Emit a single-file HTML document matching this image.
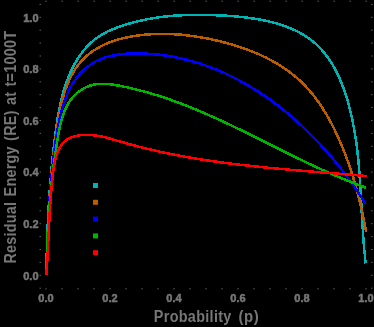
<!DOCTYPE html>
<html><head><meta charset="utf-8"><style>
html,body{margin:0;padding:0;background:#000;}
body{width:374px;height:327px;overflow:hidden;position:relative;}
svg{position:absolute;left:0;top:0;will-change:transform;}
.tl{font-family:"Liberation Sans",sans-serif;font-weight:bold;font-size:11px;fill:#777777;stroke:#777777;stroke-width:0.5px;}
.ax{font-family:"Liberation Sans",sans-serif;font-weight:bold;font-size:15px;fill:#777777;}
</style></head><body>
<svg width="374" height="327" viewBox="0 0 374 327">
<rect width="374" height="327" fill="#000"/>
<g fill="#5e5e5e"><rect x="45.5" y="288" width="1" height="1.5"/><rect x="45.5" y="0.5" width="1" height="1.5"/><rect x="61.5" y="288" width="1" height="1.5"/><rect x="61.5" y="0.5" width="1" height="1.5"/><rect x="77.5" y="288" width="1" height="1.5"/><rect x="77.5" y="0.5" width="1" height="1.5"/><rect x="93.5" y="288" width="1" height="1.5"/><rect x="93.5" y="0.5" width="1" height="1.5"/><rect x="109.5" y="288" width="1" height="1.5"/><rect x="109.5" y="0.5" width="1" height="1.5"/><rect x="125.5" y="288" width="1" height="1.5"/><rect x="125.5" y="0.5" width="1" height="1.5"/><rect x="141.5" y="288" width="1" height="1.5"/><rect x="141.5" y="0.5" width="1" height="1.5"/><rect x="157.5" y="288" width="1" height="1.5"/><rect x="157.5" y="0.5" width="1" height="1.5"/><rect x="173.5" y="288" width="1" height="1.5"/><rect x="173.5" y="0.5" width="1" height="1.5"/><rect x="189.5" y="288" width="1" height="1.5"/><rect x="189.5" y="0.5" width="1" height="1.5"/><rect x="205.5" y="288" width="1" height="1.5"/><rect x="205.5" y="0.5" width="1" height="1.5"/><rect x="221.5" y="288" width="1" height="1.5"/><rect x="221.5" y="0.5" width="1" height="1.5"/><rect x="237.5" y="288" width="1" height="1.5"/><rect x="237.5" y="0.5" width="1" height="1.5"/><rect x="253.5" y="288" width="1" height="1.5"/><rect x="253.5" y="0.5" width="1" height="1.5"/><rect x="269.5" y="288" width="1" height="1.5"/><rect x="269.5" y="0.5" width="1" height="1.5"/><rect x="285.5" y="288" width="1" height="1.5"/><rect x="285.5" y="0.5" width="1" height="1.5"/><rect x="301.5" y="288" width="1" height="1.5"/><rect x="301.5" y="0.5" width="1" height="1.5"/><rect x="317.5" y="288" width="1" height="1.5"/><rect x="317.5" y="0.5" width="1" height="1.5"/><rect x="333.5" y="288" width="1" height="1.5"/><rect x="333.5" y="0.5" width="1" height="1.5"/><rect x="349.5" y="288" width="1" height="1.5"/><rect x="349.5" y="0.5" width="1" height="1.5"/><rect x="365.5" y="288" width="1" height="1.5"/><rect x="365.5" y="0.5" width="1" height="1.5"/><rect x="39.5" y="287.7" width="1.5" height="1"/><rect x="371" y="287.7" width="1.5" height="1"/><rect x="39.5" y="274.8" width="1.5" height="1"/><rect x="371" y="274.8" width="1.5" height="1"/><rect x="39.5" y="261.9" width="1.5" height="1"/><rect x="371" y="261.9" width="1.5" height="1"/><rect x="39.5" y="249.0" width="1.5" height="1"/><rect x="371" y="249.0" width="1.5" height="1"/><rect x="39.5" y="236.1" width="1.5" height="1"/><rect x="371" y="236.1" width="1.5" height="1"/><rect x="39.5" y="223.2" width="1.5" height="1"/><rect x="371" y="223.2" width="1.5" height="1"/><rect x="39.5" y="210.3" width="1.5" height="1"/><rect x="371" y="210.3" width="1.5" height="1"/><rect x="39.5" y="197.4" width="1.5" height="1"/><rect x="371" y="197.4" width="1.5" height="1"/><rect x="39.5" y="184.5" width="1.5" height="1"/><rect x="371" y="184.5" width="1.5" height="1"/><rect x="39.5" y="171.6" width="1.5" height="1"/><rect x="371" y="171.6" width="1.5" height="1"/><rect x="39.5" y="158.7" width="1.5" height="1"/><rect x="371" y="158.7" width="1.5" height="1"/><rect x="39.5" y="145.8" width="1.5" height="1"/><rect x="371" y="145.8" width="1.5" height="1"/><rect x="39.5" y="132.9" width="1.5" height="1"/><rect x="371" y="132.9" width="1.5" height="1"/><rect x="39.5" y="120.0" width="1.5" height="1"/><rect x="371" y="120.0" width="1.5" height="1"/><rect x="39.5" y="107.1" width="1.5" height="1"/><rect x="371" y="107.1" width="1.5" height="1"/><rect x="39.5" y="94.2" width="1.5" height="1"/><rect x="371" y="94.2" width="1.5" height="1"/><rect x="39.5" y="81.3" width="1.5" height="1"/><rect x="371" y="81.3" width="1.5" height="1"/><rect x="39.5" y="68.4" width="1.5" height="1"/><rect x="371" y="68.4" width="1.5" height="1"/><rect x="39.5" y="55.5" width="1.5" height="1"/><rect x="371" y="55.5" width="1.5" height="1"/><rect x="39.5" y="42.6" width="1.5" height="1"/><rect x="371" y="42.6" width="1.5" height="1"/><rect x="39.5" y="29.7" width="1.5" height="1"/><rect x="371" y="29.7" width="1.5" height="1"/><rect x="39.5" y="16.8" width="1.5" height="1"/><rect x="371" y="16.8" width="1.5" height="1"/><rect x="39.5" y="3.9" width="1.5" height="1"/><rect x="371" y="3.9" width="1.5" height="1"/></g>
<g class="tl"><text x="46" y="302" text-anchor="middle">0.0</text><text x="38.5" y="279.6" text-anchor="end">0.0</text><text x="110" y="302" text-anchor="middle">0.2</text><text x="38.5" y="228.0" text-anchor="end">0.2</text><text x="174" y="302" text-anchor="middle">0.4</text><text x="38.5" y="176.4" text-anchor="end">0.4</text><text x="238" y="302" text-anchor="middle">0.6</text><text x="38.5" y="124.8" text-anchor="end">0.6</text><text x="302" y="302" text-anchor="middle">0.8</text><text x="38.5" y="73.2" text-anchor="end">0.8</text><text x="366" y="302" text-anchor="middle">1.0</text><text x="38.5" y="21.6" text-anchor="end">1.0</text></g>
<text class="ax" style="font-size:14.4px" letter-spacing="0.32" transform="translate(153.8,322) scale(1,1.15)">Probability</text><text class="ax" transform="translate(238.5,322) scale(1,1.1)" letter-spacing="0.5">(p)</text>
<text class="ax" style="font-size:14.4px" letter-spacing="0.25" word-spacing="1" transform="translate(16.2,263.6) rotate(-90) scale(1,1.17)">Residual Energy (RE) at t=1000T</text>
<polyline shape-rendering="crispEdges" fill="none" stroke="#00b4b4" stroke-width="2.5" stroke-linejoin="round" points="46.3,275.4 46.3,273.6 46.4,271.8 46.4,269.9 46.4,268.1 46.5,266.3 46.5,264.6 46.5,262.8 46.6,261.0 46.6,259.2 46.6,257.4 46.7,255.6 46.7,253.8 46.8,252.0 46.8,250.3 46.9,248.5 46.9,246.7 47.0,244.9 47.0,243.2 47.1,241.4 47.1,239.6 47.2,237.8 47.3,236.1 47.3,234.3 47.4,232.5 47.5,230.8 47.5,229.0 47.6,227.3 47.7,225.5 47.8,223.7 47.9,222.0 47.9,220.2 48.0,218.5 48.1,216.7 48.2,215.0 48.3,213.2 48.4,211.5 48.5,209.7 48.6,208.0 48.7,206.2 48.8,204.5 48.9,202.7 49.0,200.9 49.1,199.2 49.3,197.4 49.4,195.7 49.5,193.9 49.6,192.2 49.7,190.4 49.9,188.7 50.0,186.9 50.1,185.2 50.3,183.4 50.4,181.7 50.6,179.9 50.7,178.2 50.9,176.4 51.0,174.7 51.2,172.9 51.3,171.2 51.5,169.4 51.6,167.7 51.8,165.9 52.0,164.1 52.2,162.4 52.3,160.6 52.5,158.9 52.7,157.1 52.9,155.3 53.1,153.6 53.3,151.8 53.4,150.0 53.6,148.3 53.8,146.5 54.1,144.7 54.3,142.9 54.5,141.2 54.7,139.4 54.9,137.6 55.1,135.8 55.4,134.0 55.6,132.3 55.8,130.5 56.1,128.7 56.3,126.9 56.6,125.1 56.8,123.3 57.1,121.6 57.4,119.8 57.7,118.0 58.0,116.2 58.3,114.5 58.6,112.7 58.9,110.9 59.3,109.2 59.6,107.4 60.0,105.7 60.4,103.9 60.8,102.2 61.2,100.4 61.6,98.7 62.0,97.0 62.5,95.2 63.0,93.5 63.4,91.8 63.9,90.1 64.4,88.4 65.0,86.8 65.5,85.1 66.1,83.4 66.7,81.8 67.3,80.1 67.9,78.5 68.6,76.8 69.2,75.2 69.9,73.6 70.6,72.0 71.4,70.4 72.1,68.9 72.9,67.3 73.7,65.8 74.5,64.2 75.4,62.7 76.3,61.2 77.2,59.7 78.1,58.2 79.1,56.8 80.1,55.3 81.1,53.9 82.1,52.5 83.2,51.1 84.3,49.7 85.4,48.4 86.6,47.1 87.8,45.8 89.0,44.5 90.3,43.3 91.5,42.1 92.9,41.0 94.2,39.8 95.6,38.8 97.0,37.7 98.5,36.7 100.0,35.7 101.5,34.8 103.1,33.9 104.7,33.1 106.3,32.2 107.9,31.4 109.5,30.7 111.2,29.9 112.9,29.2 114.5,28.6 116.2,27.9 117.9,27.3 119.6,26.7 121.4,26.1 123.1,25.5 124.8,24.9 126.5,24.4 128.2,23.9 129.9,23.4 131.6,22.9 133.3,22.5 135.0,22.0 136.7,21.6 138.4,21.2 140.1,20.8 141.8,20.4 143.5,20.0 145.2,19.7 146.9,19.3 148.6,19.0 150.3,18.7 152.0,18.4 153.7,18.1 155.4,17.8 157.1,17.6 158.8,17.3 160.5,17.1 162.2,16.9 163.9,16.7 165.6,16.5 167.3,16.3 169.0,16.1 170.7,16.0 172.4,15.8 174.1,15.7 175.9,15.6 177.6,15.5 179.3,15.4 181.0,15.3 182.8,15.2 184.5,15.1 186.2,15.1 188.0,15.0 189.7,15.0 191.4,14.9 193.2,14.9 195.0,14.9 196.7,14.9 198.5,14.9 200.3,14.9 202.0,14.9 203.8,14.9 205.6,15.0 207.4,15.0 209.2,15.0 211.0,15.1 212.8,15.1 214.6,15.2 216.5,15.3 218.3,15.3 220.1,15.4 222.0,15.5 223.8,15.6 225.6,15.7 227.5,15.8 229.4,16.0 231.2,16.1 233.1,16.2 234.9,16.4 236.8,16.5 238.6,16.7 240.5,16.9 242.3,17.1 244.2,17.3 246.0,17.5 247.9,17.8 249.7,18.0 251.6,18.3 253.4,18.5 255.2,18.8 257.1,19.1 258.9,19.4 260.7,19.8 262.5,20.1 264.3,20.5 266.1,20.9 267.9,21.3 269.6,21.7 271.4,22.1 273.2,22.6 274.9,23.0 276.6,23.5 278.3,24.0 280.1,24.5 281.7,25.1 283.4,25.7 285.1,26.2 286.7,26.9 288.4,27.5 290.0,28.1 291.6,28.8 293.2,29.5 294.8,30.2 296.3,31.0 297.8,31.7 299.4,32.5 300.9,33.3 302.3,34.2 303.8,35.0 305.2,35.9 306.6,36.9 308.0,37.8 309.4,38.8 310.7,39.8 312.1,40.8 313.4,41.9 314.6,42.9 315.9,44.0 317.1,45.2 318.3,46.3 319.5,47.5 320.6,48.8 321.8,50.0 322.9,51.3 324.0,52.6 325.0,53.9 326.1,55.2 327.1,56.6 328.1,57.9 329.1,59.4 330.0,60.8 330.9,62.2 331.9,63.7 332.8,65.2 333.6,66.7 334.5,68.2 335.3,69.7 336.1,71.3 336.9,72.8 337.7,74.4 338.5,76.0 339.2,77.6 339.9,79.2 340.6,80.9 341.3,82.5 342.0,84.2 342.6,85.9 343.3,87.6 343.9,89.2 344.5,91.0 345.1,92.7 345.6,94.4 346.2,96.1 346.7,97.9 347.3,99.6 347.8,101.3 348.3,103.1 348.8,104.9 349.2,106.6 349.7,108.4 350.1,110.2 350.6,111.9 351.0,113.7 351.4,115.5 351.8,117.3 352.2,119.0 352.5,120.8 352.9,122.6 353.2,124.4 353.6,126.2 353.9,127.9 354.2,129.7 354.5,131.5 354.8,133.2 355.1,135.0 355.4,136.8 355.7,138.5 355.9,140.3 356.2,142.1 356.4,143.8 356.7,145.6 356.9,147.3 357.1,149.1 357.3,150.8 357.5,152.6 357.7,154.3 357.9,156.1 358.1,157.8 358.3,159.6 358.4,161.3 358.6,163.1 358.8,164.8 358.9,166.6 359.1,168.3 359.2,170.1 359.3,171.8 359.5,173.6 359.6,175.3 359.7,177.1 359.9,178.8 360.0,180.6 360.1,182.3 360.2,184.1 360.3,185.8 360.4,187.6 360.5,189.3 360.6,191.1 360.7,192.8 360.8,194.5 360.9,196.3 361.0,198.0 361.1,199.8 361.2,201.5 361.3,203.3 361.4,205.1 361.5,206.8 361.6,208.6 361.7,210.3 361.7,212.1 361.8,213.8 361.9,215.6 362.0,217.3 362.1,219.1 362.2,220.9 362.3,222.6 362.4,224.4 362.5,226.2 362.6,227.9 362.8,229.7 362.9,231.5 363.0,233.3 363.1,235.0 363.2,236.8 363.4,238.6 363.5,240.4 363.6,242.2 363.8,243.9 363.9,245.7 364.1,247.5 364.2,249.3 364.4,251.1 364.6,252.9 364.8,254.7 364.9,256.5 365.1,258.3 365.3,260.1 365.5,261.9 365.7,263.4"/>
<polyline shape-rendering="crispEdges" fill="none" stroke="#bb5c00" stroke-width="2.5" stroke-linejoin="round" points="46.3,275.4 46.3,273.8 46.3,272.2 46.4,270.6 46.4,269.0 46.5,267.3 46.5,265.7 46.6,264.1 46.6,262.6 46.7,261.0 46.7,259.4 46.8,257.8 46.8,256.2 46.9,254.6 46.9,253.0 47.0,251.5 47.0,249.9 47.1,248.3 47.2,246.7 47.2,245.2 47.3,243.6 47.3,242.1 47.4,240.5 47.4,238.9 47.5,237.4 47.6,235.8 47.6,234.3 47.7,232.7 47.7,231.2 47.8,229.6 47.9,228.1 47.9,226.5 48.0,225.0 48.1,223.4 48.1,221.9 48.2,220.4 48.3,218.8 48.4,217.3 48.4,215.8 48.5,214.2 48.6,212.7 48.7,211.1 48.8,209.6 48.9,208.1 49.0,206.6 49.0,205.0 49.1,203.5 49.2,202.0 49.3,200.4 49.4,198.9 49.5,197.4 49.6,195.8 49.7,194.3 49.8,192.8 49.9,191.2 50.1,189.7 50.2,188.2 50.3,186.7 50.4,185.1 50.5,183.6 50.6,182.1 50.8,180.5 50.9,179.0 51.0,177.5 51.2,175.9 51.3,174.4 51.4,172.9 51.6,171.3 51.7,169.8 51.9,168.2 52.0,166.7 52.2,165.1 52.3,163.6 52.5,162.1 52.7,160.5 52.8,159.0 53.0,157.4 53.2,155.9 53.4,154.3 53.5,152.8 53.7,151.2 53.9,149.6 54.1,148.1 54.3,146.5 54.5,144.9 54.7,143.4 54.9,141.8 55.1,140.2 55.3,138.7 55.5,137.1 55.8,135.5 56.0,133.9 56.2,132.3 56.5,130.7 56.7,129.1 56.9,127.5 57.2,125.9 57.4,124.3 57.7,122.7 57.9,121.1 58.2,119.5 58.5,117.9 58.8,116.3 59.1,114.7 59.4,113.2 59.7,111.6 60.0,110.0 60.4,108.4 60.7,106.8 61.1,105.2 61.4,103.7 61.8,102.1 62.2,100.5 62.6,99.0 63.0,97.4 63.5,95.9 63.9,94.4 64.4,92.8 64.9,91.3 65.4,89.8 65.9,88.3 66.5,86.9 67.0,85.4 67.6,83.9 68.2,82.5 68.8,81.1 69.5,79.7 70.1,78.3 70.8,76.9 71.5,75.5 72.3,74.2 73.0,72.8 73.8,71.5 74.6,70.2 75.4,68.9 76.3,67.7 77.2,66.4 78.1,65.2 79.0,64.0 79.9,62.9 81.1,61.5 82.3,60.2 83.5,58.9 84.8,57.6 86.1,56.4 87.5,55.2 88.8,54.1 90.2,53.0 91.7,51.9 93.1,50.9 94.6,49.9 96.2,49.0 97.5,48.2 98.8,47.5 100.1,46.7 101.4,46.0 102.8,45.4 104.2,44.7 105.6,44.1 107.0,43.5 108.4,42.9 109.8,42.3 111.3,41.8 112.7,41.3 114.2,40.8 115.7,40.3 117.2,39.9 118.7,39.4 120.2,39.0 121.7,38.6 123.2,38.2 124.8,37.9 126.3,37.5 127.8,37.2 129.4,36.9 131.0,36.6 132.5,36.3 134.1,36.1 135.6,35.8 137.2,35.6 138.8,35.4 140.4,35.2 141.9,35.0 143.5,34.8 145.1,34.7 146.7,34.5 148.2,34.4 149.8,34.3 151.4,34.2 153.0,34.1 154.5,34.0 156.1,34.0 157.7,33.9 159.2,33.9 160.8,33.9 162.4,33.9 164.0,33.9 165.5,33.9 167.1,33.9 168.7,34.0 170.2,34.0 171.8,34.1 173.3,34.2 174.9,34.3 176.5,34.4 178.0,34.5 179.6,34.6 181.2,34.7 182.7,34.9 184.3,35.0 185.8,35.2 187.4,35.4 189.0,35.6 190.5,35.8 192.1,36.0 193.6,36.2 195.2,36.4 196.7,36.7 198.3,36.9 199.8,37.2 201.4,37.4 202.9,37.7 204.5,38.0 206.0,38.3 207.6,38.6 209.1,38.9 210.7,39.2 212.2,39.6 213.7,39.9 215.3,40.2 216.8,40.6 218.4,41.0 219.9,41.3 221.4,41.7 223.0,42.1 224.5,42.5 226.0,42.9 227.6,43.3 229.1,43.7 230.6,44.2 232.1,44.6 233.6,45.0 235.1,45.5 236.6,46.0 238.1,46.5 239.6,46.9 241.1,47.4 242.6,48.0 244.1,48.5 245.6,49.0 247.1,49.5 248.5,50.1 250.0,50.7 251.5,51.2 252.9,51.8 254.4,52.4 255.8,53.0 257.3,53.6 258.7,54.2 260.1,54.9 261.5,55.5 262.9,56.2 264.3,56.9 265.7,57.5 267.1,58.2 268.5,58.9 269.9,59.7 271.2,60.4 272.6,61.1 273.9,61.9 275.3,62.7 276.6,63.4 277.9,64.2 279.3,65.0 280.6,65.8 281.9,66.7 283.1,67.5 284.4,68.4 285.7,69.2 286.9,70.1 288.2,71.0 289.4,71.9 290.6,72.9 291.8,73.8 293.0,74.7 294.2,75.7 295.4,76.7 296.6,77.7 297.7,78.7 298.9,79.7 300.0,80.7 301.1,81.8 302.2,82.9 303.3,83.9 304.4,85.0 305.5,86.1 306.5,87.3 307.6,88.4 308.6,89.6 309.6,90.7 310.6,91.9 311.6,93.1 312.6,94.3 313.5,95.5 314.5,96.7 315.4,98.0 316.4,99.2 317.3,100.5 318.2,101.8 319.1,103.0 320.0,104.3 320.9,105.6 321.7,106.9 322.6,108.3 323.4,109.6 324.2,110.9 325.1,112.3 325.9,113.6 326.7,115.0 327.5,116.3 328.3,117.7 329.0,119.1 329.8,120.5 330.5,121.9 331.3,123.3 332.0,124.7 332.7,126.1 333.5,127.5 334.2,128.9 334.9,130.4 335.5,131.8 336.2,133.2 336.9,134.6 337.6,136.1 338.2,137.5 338.8,139.0 339.5,140.4 340.1,141.9 340.7,143.3 341.3,144.8 342.0,146.2 342.6,147.7 343.1,149.1 343.7,150.6 344.3,152.0 344.9,153.5 345.4,154.9 346.0,156.4 346.5,157.8 347.1,159.3 347.6,160.8 348.1,162.2 348.6,163.7 349.2,165.2 349.7,166.6 350.2,168.1 350.6,169.6 351.1,171.0 351.6,172.5 352.1,174.0 352.6,175.5 353.0,176.9 353.5,178.4 353.9,179.9 354.4,181.4 354.8,182.9 355.2,184.3 355.6,185.8 356.1,187.3 356.5,188.8 356.9,190.3 357.3,191.8 357.7,193.3 358.1,194.8 358.5,196.3 358.8,197.8 359.2,199.3 359.6,200.8 359.9,202.3 360.3,203.8 360.7,205.3 361.0,206.8 361.4,208.3 361.7,209.9 362.0,211.4 362.4,212.9 362.7,214.4 363.0,215.9 363.3,217.5 363.6,219.0 364.0,220.5 364.3,222.1 364.6,223.6 364.9,225.1 365.2,226.7 365.4,228.2 365.7,229.8 366.0,231.3 366.1,231.9"/>
<polyline shape-rendering="crispEdges" fill="none" stroke="#0000ff" stroke-width="2.5" stroke-linejoin="round" points="46.2,275.4 46.3,273.6 46.4,271.9 46.4,270.2 46.5,268.5 46.5,266.7 46.6,265.0 46.7,263.3 46.7,261.6 46.8,259.9 46.8,258.2 46.9,256.5 47.0,254.8 47.0,253.2 47.1,251.5 47.1,249.8 47.2,248.1 47.3,246.5 47.3,244.8 47.4,243.1 47.5,241.5 47.5,239.8 47.6,238.1 47.6,236.5 47.7,234.8 47.8,233.2 47.9,231.5 47.9,229.9 48.0,228.2 48.1,226.6 48.1,224.9 48.2,223.3 48.3,221.7 48.4,220.0 48.5,218.4 48.5,216.8 48.6,215.1 48.7,213.5 48.8,211.9 48.9,210.2 49.0,208.6 49.1,207.0 49.2,205.3 49.3,203.7 49.4,202.1 49.5,200.4 49.6,198.8 49.7,197.2 49.8,195.5 50.0,193.9 50.1,192.3 50.2,190.6 50.3,189.0 50.5,187.4 50.6,185.7 50.7,184.1 50.9,182.4 51.0,180.8 51.2,179.1 51.3,177.5 51.5,175.9 51.6,174.2 51.8,172.6 52.0,170.9 52.1,169.2 52.3,167.6 52.5,165.9 52.7,164.3 52.9,162.6 53.1,160.9 53.3,159.3 53.5,157.6 53.7,155.9 53.9,154.2 54.1,152.6 54.3,150.9 54.5,149.2 54.8,147.5 55.0,145.8 55.2,144.1 55.5,142.4 55.7,140.7 56.0,139.0 56.3,137.2 56.5,135.5 56.8,133.8 57.1,132.1 57.4,130.3 57.7,128.6 58.0,126.9 58.3,125.2 58.6,123.5 59.0,121.7 59.3,120.0 59.7,118.3 60.1,116.6 60.5,114.9 60.9,113.2 61.3,111.6 61.8,109.9 62.2,108.2 62.7,106.6 63.2,104.9 63.7,103.3 64.3,101.7 64.8,100.1 65.4,98.5 66.0,97.0 66.6,95.4 67.3,93.9 68.0,92.4 68.7,90.9 69.4,89.4 70.1,87.9 70.9,86.5 71.7,85.1 72.5,83.7 73.4,82.3 74.3,81.0 75.2,79.7 76.1,78.4 77.1,77.1 78.1,75.9 79.2,74.6 80.2,73.5 81.3,72.3 82.4,71.2 83.6,70.1 84.8,69.0 86.0,68.0 87.2,67.0 88.4,66.1 89.7,65.2 91.0,64.3 92.4,63.4 93.7,62.6 95.1,61.8 96.5,61.1 97.9,60.4 99.4,59.8 100.9,59.1 102.4,58.6 103.9,58.0 105.4,57.5 107.0,57.0 108.5,56.6 110.1,56.2 111.7,55.8 113.4,55.5 115.0,55.2 116.6,54.9 118.3,54.6 120.0,54.4 121.6,54.2 123.3,54.0 125.0,53.9 126.7,53.7 128.4,53.6 130.1,53.5 131.8,53.5 133.6,53.4 135.3,53.4 137.0,53.4 138.7,53.4 140.4,53.4 142.2,53.5 143.9,53.6 145.6,53.6 147.3,53.7 149.0,53.8 150.7,53.9 152.4,54.1 154.1,54.2 155.8,54.4 157.5,54.5 159.2,54.7 160.8,54.9 162.5,55.2 164.2,55.4 165.8,55.6 167.5,55.9 169.2,56.1 170.8,56.4 172.5,56.7 174.1,57.0 175.8,57.3 177.4,57.7 179.0,58.0 180.7,58.4 182.3,58.8 183.9,59.1 185.5,59.5 187.2,59.9 188.8,60.4 190.4,60.8 192.0,61.2 193.6,61.7 195.2,62.2 196.8,62.6 198.3,63.1 199.9,63.6 201.5,64.2 203.1,64.7 204.7,65.2 206.2,65.8 207.8,66.3 209.3,66.9 210.9,67.5 212.4,68.1 214.0,68.7 215.5,69.3 217.1,69.9 218.6,70.6 220.1,71.2 221.6,71.9 223.1,72.6 224.7,73.2 226.2,73.9 227.7,74.6 229.2,75.3 230.7,76.1 232.2,76.8 233.6,77.5 235.1,78.3 236.6,79.0 238.1,79.8 239.5,80.6 241.0,81.4 242.4,82.2 243.9,83.0 245.3,83.8 246.8,84.7 248.2,85.5 249.7,86.3 251.1,87.2 252.5,88.1 253.9,88.9 255.3,89.8 256.8,90.7 258.2,91.6 259.6,92.5 261.0,93.4 262.3,94.4 263.7,95.3 265.1,96.2 266.5,97.2 267.8,98.1 269.2,99.1 270.6,100.1 271.9,101.1 273.3,102.1 274.6,103.1 276.0,104.1 277.3,105.1 278.6,106.1 279.9,107.1 281.3,108.2 282.6,109.2 283.9,110.3 285.2,111.3 286.5,112.4 287.8,113.5 289.1,114.5 290.3,115.6 291.6,116.7 292.9,117.8 294.1,118.9 295.4,120.0 296.7,121.2 297.9,122.3 299.1,123.4 300.4,124.6 301.6,125.7 302.8,126.8 304.1,128.0 305.3,129.2 306.5,130.3 307.7,131.5 308.9,132.7 310.1,133.9 311.3,135.1 312.5,136.3 313.6,137.5 314.8,138.7 316.0,139.9 317.1,141.1 318.3,142.3 319.4,143.5 320.6,144.8 321.7,146.0 322.8,147.2 324.0,148.5 325.1,149.7 326.2,151.0 327.3,152.2 328.4,153.5 329.5,154.8 330.6,156.0 331.7,157.3 332.7,158.6 333.8,159.9 334.9,161.2 335.9,162.5 337.0,163.8 338.0,165.1 339.1,166.4 340.1,167.7 341.1,169.0 342.2,170.3 343.2,171.6 344.2,172.9 345.2,174.2 346.2,175.6 347.2,176.9 348.2,178.2 349.1,179.6 350.1,180.9 351.1,182.2 352.0,183.6 353.0,184.9 353.9,186.3 354.9,187.6 355.8,189.0 356.8,190.3 357.7,191.7 358.6,193.0 359.5,194.4 360.4,195.7 361.3,197.1 362.2,198.5 363.1,199.8 363.9,201.2 364.8,202.6 365.7,203.9 365.8,204.2"/>
<polyline shape-rendering="crispEdges" fill="none" stroke="#00b400" stroke-width="2.5" stroke-linejoin="round" points="46.5,275.4 46.5,273.8 46.5,272.3 46.5,270.7 46.5,269.2 46.5,267.6 46.6,266.1 46.6,264.5 46.6,263.0 46.6,261.5 46.7,259.9 46.7,258.4 46.7,256.9 46.8,255.4 46.8,253.8 46.9,252.3 46.9,250.8 46.9,249.3 47.0,247.8 47.0,246.3 47.1,244.8 47.2,243.3 47.2,241.8 47.3,240.0 47.4,238.3 47.4,236.5 47.5,234.8 47.6,233.1 47.7,231.3 47.8,229.6 47.9,227.8 48.0,226.1 48.1,224.4 48.2,222.7 48.3,220.9 48.4,219.2 48.5,217.5 48.6,215.8 48.7,214.1 48.9,212.3 49.0,210.6 49.1,208.9 49.2,207.2 49.4,205.5 49.5,203.7 49.7,202.0 49.8,200.3 50.0,198.6 50.1,196.9 50.3,195.2 50.5,193.4 50.6,191.7 50.8,190.0 51.0,188.3 51.1,186.6 51.3,184.8 51.5,183.1 51.7,181.4 51.9,179.7 52.1,177.9 52.3,176.2 52.5,174.5 52.7,172.8 52.9,171.0 53.2,169.3 53.3,167.8 53.5,166.3 53.7,164.8 53.9,163.3 54.1,161.8 54.4,160.3 54.6,158.8 54.8,157.3 55.0,155.8 55.2,154.3 55.4,152.8 55.7,151.3 55.9,149.8 56.1,148.3 56.4,146.7 56.6,145.2 56.8,143.7 57.1,142.2 57.3,140.6 57.6,139.1 57.8,137.5 58.1,136.0 58.4,134.5 58.6,132.9 58.9,131.4 59.2,129.9 59.5,128.3 59.9,126.8 60.2,125.3 60.6,123.8 60.9,122.3 61.3,120.8 61.7,119.3 62.2,117.9 62.6,116.4 63.1,115.0 63.6,113.5 64.1,112.1 64.8,110.5 65.5,108.9 66.2,107.4 67.0,105.8 67.8,104.3 68.7,102.9 69.6,101.4 70.6,100.0 71.6,98.7 72.7,97.4 73.9,96.1 75.1,94.9 76.3,93.7 77.6,92.6 78.9,91.5 80.3,90.5 81.7,89.6 83.1,88.7 84.6,87.9 86.1,87.1 87.7,86.5 89.2,85.9 90.8,85.4 92.4,85.0 94.0,84.6 95.7,84.3 97.3,84.1 99.0,84.0 100.7,83.9 102.4,83.9 104.1,83.9 105.8,84.0 107.6,84.1 109.3,84.2 110.8,84.4 112.3,84.6 113.8,84.8 115.3,85.0 116.8,85.3 118.4,85.6 119.9,85.8 121.4,86.1 122.9,86.4 124.4,86.8 125.9,87.1 127.4,87.4 128.9,87.7 130.4,88.1 131.8,88.4 133.3,88.8 134.8,89.1 136.3,89.5 137.8,89.9 139.2,90.2 140.7,90.6 142.2,91.0 143.6,91.4 145.1,91.8 146.6,92.2 148.0,92.6 149.5,93.0 150.9,93.5 152.4,93.9 153.8,94.3 155.3,94.8 156.7,95.2 158.2,95.7 159.6,96.1 161.0,96.6 162.5,97.1 163.9,97.5 165.3,98.0 166.7,98.5 168.2,99.0 169.6,99.5 171.0,100.0 172.4,100.5 173.8,101.0 175.3,101.5 176.7,102.0 178.1,102.5 179.5,103.1 180.9,103.6 182.3,104.1 183.7,104.7 185.1,105.2 186.5,105.8 187.9,106.3 189.3,106.9 190.7,107.4 192.1,108.0 193.5,108.6 194.9,109.1 196.2,109.7 197.6,110.3 199.0,110.9 200.4,111.5 201.8,112.1 203.2,112.6 204.5,113.2 205.9,113.8 207.3,114.4 208.7,115.0 210.0,115.7 211.4,116.3 212.8,116.9 214.2,117.5 215.5,118.1 216.9,118.7 218.3,119.4 219.6,120.0 221.0,120.6 222.4,121.2 223.7,121.9 225.1,122.5 226.4,123.2 227.8,123.8 229.2,124.4 230.5,125.1 231.9,125.7 233.2,126.4 234.6,127.0 235.9,127.7 237.3,128.3 238.6,129.0 240.0,129.6 241.3,130.3 242.7,131.0 244.0,131.6 245.4,132.3 246.7,132.9 248.1,133.6 249.4,134.3 250.8,134.9 252.1,135.6 253.5,136.3 254.8,136.9 256.2,137.6 257.5,138.3 258.9,139.0 260.2,139.6 261.6,140.3 262.9,141.0 264.3,141.6 265.6,142.3 267.0,143.0 268.3,143.7 269.7,144.3 271.0,145.0 272.3,145.7 273.7,146.4 275.0,147.0 276.4,147.7 277.7,148.4 279.1,149.0 280.4,149.7 281.8,150.4 283.1,151.1 284.5,151.7 285.8,152.4 287.2,153.1 288.5,153.7 289.9,154.4 291.2,155.1 292.6,155.7 293.9,156.4 295.3,157.0 296.6,157.7 298.0,158.4 299.3,159.0 300.7,159.7 302.0,160.3 303.4,161.0 304.8,161.6 306.1,162.3 307.5,162.9 308.8,163.6 310.2,164.2 311.6,164.9 312.9,165.5 314.3,166.1 315.6,166.8 317.0,167.4 318.4,168.0 319.7,168.7 321.1,169.3 322.5,169.9 323.8,170.5 325.2,171.1 326.6,171.8 328.0,172.4 329.3,173.0 330.7,173.6 332.1,174.2 333.5,174.8 334.9,175.4 336.2,176.0 337.6,176.6 339.0,177.1 340.4,177.7 341.8,178.3 343.2,178.9 344.6,179.5 346.0,180.0 347.4,180.6 348.8,181.2 350.2,181.7 351.6,182.3 353.0,182.8 354.4,183.4 355.8,183.9 357.2,184.4 358.6,185.0 360.0,185.5 361.4,186.0 362.8,186.5 364.2,187.1 365.7,187.6 366.4,187.8"/>
<polyline shape-rendering="crispEdges" fill="none" stroke="#ff0000" stroke-width="2.5" stroke-linejoin="round" points="46.4,275.3 46.5,273.6 46.6,272.0 46.7,270.3 46.8,268.7 46.9,267.0 47.0,265.4 47.1,263.8 47.2,262.2 47.3,260.6 47.3,259.0 47.4,257.4 47.5,255.8 47.6,254.2 47.7,252.7 47.8,251.1 47.8,249.6 47.9,248.0 48.0,246.5 48.1,245.0 48.1,243.5 48.2,241.9 48.3,240.4 48.4,238.9 48.4,237.4 48.5,235.9 48.6,234.4 48.7,232.7 48.8,231.0 48.8,229.3 48.9,227.6 49.0,225.9 49.1,224.2 49.2,222.5 49.3,220.8 49.4,219.0 49.5,217.3 49.6,215.8 49.6,214.3 49.7,212.8 49.8,211.3 49.9,209.8 50.0,208.3 50.1,206.8 50.2,205.2 50.3,203.7 50.4,202.2 50.5,200.6 50.6,199.1 50.8,197.5 50.9,196.0 51.0,194.4 51.1,192.8 51.2,191.2 51.4,189.6 51.5,188.0 51.7,186.4 51.8,184.8 52.0,183.2 52.1,181.5 52.3,179.9 52.4,178.2 52.6,176.5 52.8,174.8 53.0,173.2 53.2,171.5 53.4,169.8 53.6,168.1 53.9,166.5 54.2,164.8 54.5,163.2 54.8,161.6 55.2,160.0 55.6,158.4 56.0,156.9 56.4,155.4 56.9,153.9 57.5,152.5 58.0,151.1 58.7,149.5 59.5,148.0 60.3,146.6 61.2,145.3 62.2,144.0 63.2,142.8 64.4,141.7 65.6,140.7 66.8,139.7 68.2,138.9 69.6,138.1 71.1,137.5 72.6,136.9 74.2,136.4 75.9,136.0 77.5,135.6 79.0,135.4 80.5,135.2 82.0,135.0 83.5,134.9 85.1,134.8 86.6,134.8 88.1,134.9 89.6,134.9 91.1,135.0 92.7,135.2 94.2,135.3 95.7,135.5 97.2,135.8 98.8,136.0 100.3,136.3 101.8,136.6 103.3,137.0 104.9,137.3 106.4,137.7 107.9,138.1 109.5,138.5 111.0,138.9 112.5,139.3 114.0,139.8 115.6,140.2 117.1,140.7 118.6,141.1 120.2,141.5 121.7,142.0 123.2,142.4 124.8,142.9 126.3,143.3 127.8,143.7 129.4,144.2 130.9,144.6 132.4,145.0 134.0,145.4 135.5,145.8 137.0,146.2 138.5,146.6 140.1,147.0 141.6,147.4 143.1,147.8 144.7,148.1 146.2,148.5 147.7,148.9 149.3,149.2 150.8,149.6 152.3,150.0 153.9,150.3 155.4,150.7 156.9,151.0 158.5,151.4 160.0,151.7 161.5,152.0 163.0,152.4 164.6,152.7 166.1,153.0 167.6,153.3 169.2,153.6 170.7,153.9 172.2,154.3 173.8,154.6 175.3,154.9 176.8,155.2 178.4,155.4 179.9,155.7 181.4,156.0 183.0,156.3 184.5,156.6 186.0,156.9 187.6,157.1 189.1,157.4 190.6,157.7 192.2,157.9 193.7,158.2 195.2,158.4 196.8,158.7 198.3,158.9 199.8,159.2 201.4,159.4 202.9,159.7 204.4,159.9 206.0,160.2 207.5,160.4 209.0,160.6 210.6,160.8 212.1,161.1 213.6,161.3 215.2,161.5 216.7,161.7 218.2,161.9 219.8,162.2 221.3,162.4 222.9,162.6 224.4,162.8 225.9,163.0 227.5,163.2 229.0,163.4 230.5,163.6 232.1,163.8 233.6,163.9 235.1,164.1 236.7,164.3 238.2,164.5 239.8,164.7 241.3,164.9 242.8,165.0 244.4,165.2 245.9,165.4 247.5,165.6 249.0,165.7 250.5,165.9 252.1,166.1 253.6,166.2 255.2,166.4 256.7,166.6 258.2,166.7 259.8,166.9 261.3,167.0 262.9,167.2 264.4,167.4 265.9,167.5 267.5,167.7 269.0,167.8 270.6,168.0 272.1,168.1 273.7,168.2 275.2,168.4 276.8,168.5 278.3,168.7 279.8,168.8 281.4,169.0 282.9,169.1 284.5,169.2 286.0,169.4 287.6,169.5 289.1,169.6 290.7,169.8 292.2,169.9 293.8,170.1 295.3,170.2 296.9,170.3 298.4,170.4 300.0,170.6 301.5,170.7 303.1,170.8 304.6,171.0 306.2,171.1 307.7,171.2 309.3,171.4 310.8,171.5 312.4,171.6 313.9,171.7 315.5,171.9 317.0,172.0 318.6,172.1 320.1,172.2 321.7,172.4 323.2,172.5 324.8,172.6 326.4,172.7 327.9,172.9 329.5,173.0 331.0,173.1 332.6,173.2 334.1,173.4 335.7,173.5 337.3,173.6 338.8,173.8 340.4,173.9 341.9,174.0 343.5,174.1 345.1,174.3 346.6,174.4 348.2,174.5 349.7,174.7 351.3,174.8 352.9,174.9 354.4,175.0 356.0,175.2 357.6,175.3 359.1,175.4 360.7,175.6 362.3,175.7 363.8,175.9 365.4,176.0 366.7,176.1"/>
<rect x="93" y="183.0" width="5" height="5" fill="#00b4b4"/><rect x="93" y="199.8" width="5" height="5" fill="#bb5c00"/><rect x="93" y="216.6" width="5" height="5" fill="#0000ff"/><rect x="93" y="233.4" width="5" height="5" fill="#00b400"/><rect x="93" y="250.2" width="5" height="5" fill="#ff0000"/>
</svg>
</body></html>
